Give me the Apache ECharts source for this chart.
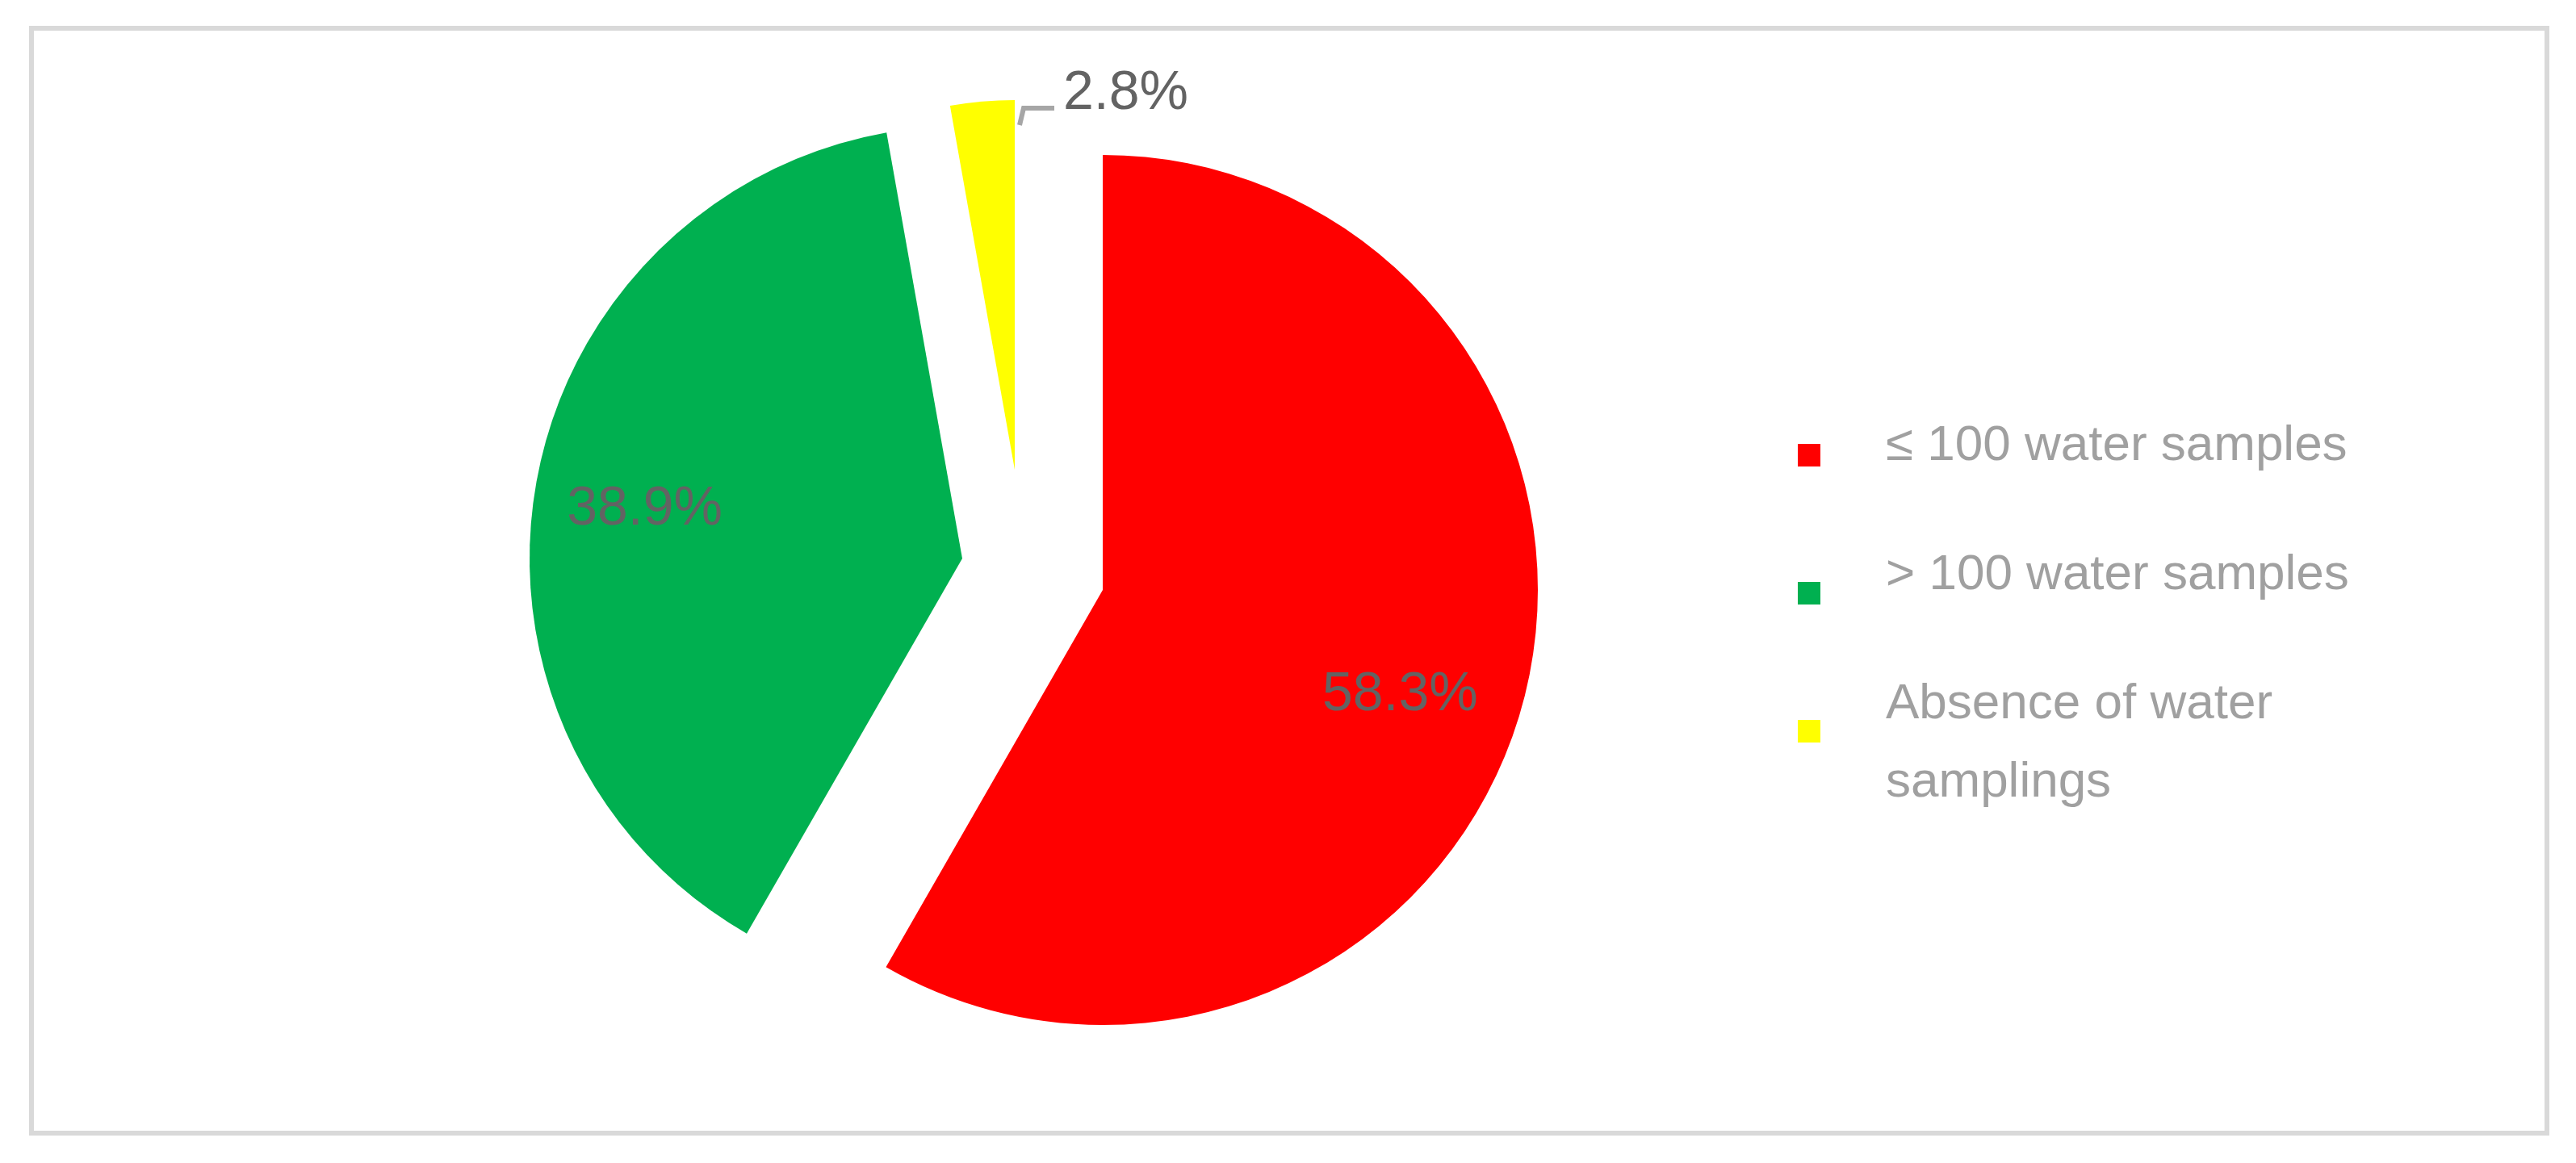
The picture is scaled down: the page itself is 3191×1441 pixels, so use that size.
<!DOCTYPE html>
<html>
<head>
<meta charset="utf-8">
<script src="https://cdn.jsdelivr.net/npm/echarts@6/dist/echarts.min.js"></script>
<style>
html,body{margin:0;padding:0;background:#fff;}
#main{width:3191px;height:1441px;}
</style>
</head>
<body>
<div id="main"></div>
<script>
// ---- data ----
const categories = ['≤ 100 water samples', '> 100 water samples', 'Absence of water samplings'];
const values = [58.3, 38.9, 2.8];
const colors = ['#ff0000', '#00b050', '#ffff00'];

// ---- layout (styling only) ----
const centers = [[1366, 731], [1192, 692], [1257, 582]];
const radii = [539, 536, 458];
const labelFont = 'Liberation Sans, Arial, sans-serif';
const legendFont = 'Liberation Sans, Arial, sans-serif';

const total = values.reduce((a, b) => a + b, 0);
const midAngles = [];
let acc = 0;
values.forEach(v => { midAngles.push((acc + v / 2) / total * 2 * Math.PI); acc += v; });

function innerPos(k, f) {
  const a = midAngles[k] + (k === 0 ? 0.06 : 0);
  return [centers[k][0] + f * radii[k] * Math.sin(a), centers[k][1] - f * radii[k] * Math.cos(a) + 8];
}

const series = categories.map((cat, k) => ({
  type: 'pie',
  center: centers[k],
  radius: radii[k],
  startAngle: 90,
  clockwise: true,
  avoidLabelOverlap: false,
  silent: true,
  animation: false,
  emphasis: { disabled: true },
  itemStyle: { borderWidth: 0 },
  data: categories.map((n, i) => ({
    name: n,
    value: values[i],
    itemStyle: { color: i === k ? colors[i] : 'rgba(0,0,0,0)', borderWidth: 0 },
    label: { show: i === k },
    labelLine: { show: i === k && k === 2 }
  })),
  label: {
    position: k === 2 ? 'outside' : 'inside',
    formatter: p => p.value.toFixed(1) + '%',
    fontFamily: labelFont,
    fontSize: 68,
    color: '#636363'
  },
  labelLine: {
    show: k === 2,
    lineStyle: { color: '#a6a6a6', width: 6 }
  },
  labelLayout: function (params) {
    if (params.dataIndex !== k) return {};
    if (k === 2) {
      return {
        x: 1317, y: 116, align: 'left', verticalAlign: 'middle',
        labelLinePoints: [[1263, 155], [1268, 134], [1306, 134]]
      };
    }
    const p = innerPos(k, k === 0 ? 0.72 : 0.745);
    return { x: p[0], y: p[1], align: 'center', verticalAlign: 'middle' };
  }
}));

// legend icons (one legend per item) and legend texts (one per item)
const iconTops = [550, 721, 892];
const textTops = [504, 664, 824];
const legends = [];
categories.forEach((cat, i) => {
  legends.push({
    left: 2227,
    top: iconTops[i],
    padding: 0,
    itemWidth: 28,
    itemHeight: 28,
    icon: 'rect',
    selectedMode: false,
    data: [{ name: cat, itemStyle: { color: colors[i] } }],
    formatter: () => ' ',
    textStyle: { fontSize: 1, lineHeight: 1, color: 'rgba(0,0,0,0)' }
  });
});
categories.forEach((cat, i) => {
  legends.push({
    left: 2331,
    top: textTops[i],
    padding: 0,
    itemWidth: 0,
    itemHeight: 0,
    icon: 'rect',
    selectedMode: false,
    data: [{ name: cat, itemStyle: { color: 'rgba(0,0,0,0)' } }],
    formatter: name => name === 'Absence of water samplings' ? 'Absence of water\nsamplings' : name,
    textStyle: {
      fontFamily: legendFont,
      fontSize: 62,
      lineHeight: 97,
      color: '#a0a0a0'
    }
  });
});

const chart = echarts.init(document.getElementById('main'), null, { renderer: 'canvas' });
chart.setOption({
  backgroundColor: '#ffffff',
  animation: false,
  legend: legends,
  graphic: [{
    type: 'rect',
    shape: { x: 39, y: 35, width: 3116, height: 1369 },
    style: { fill: 'none', stroke: '#d9d9d9', lineWidth: 6 },
    silent: true,
    z: -1
  }],
  series: series
});
</script>
</body>
</html>
